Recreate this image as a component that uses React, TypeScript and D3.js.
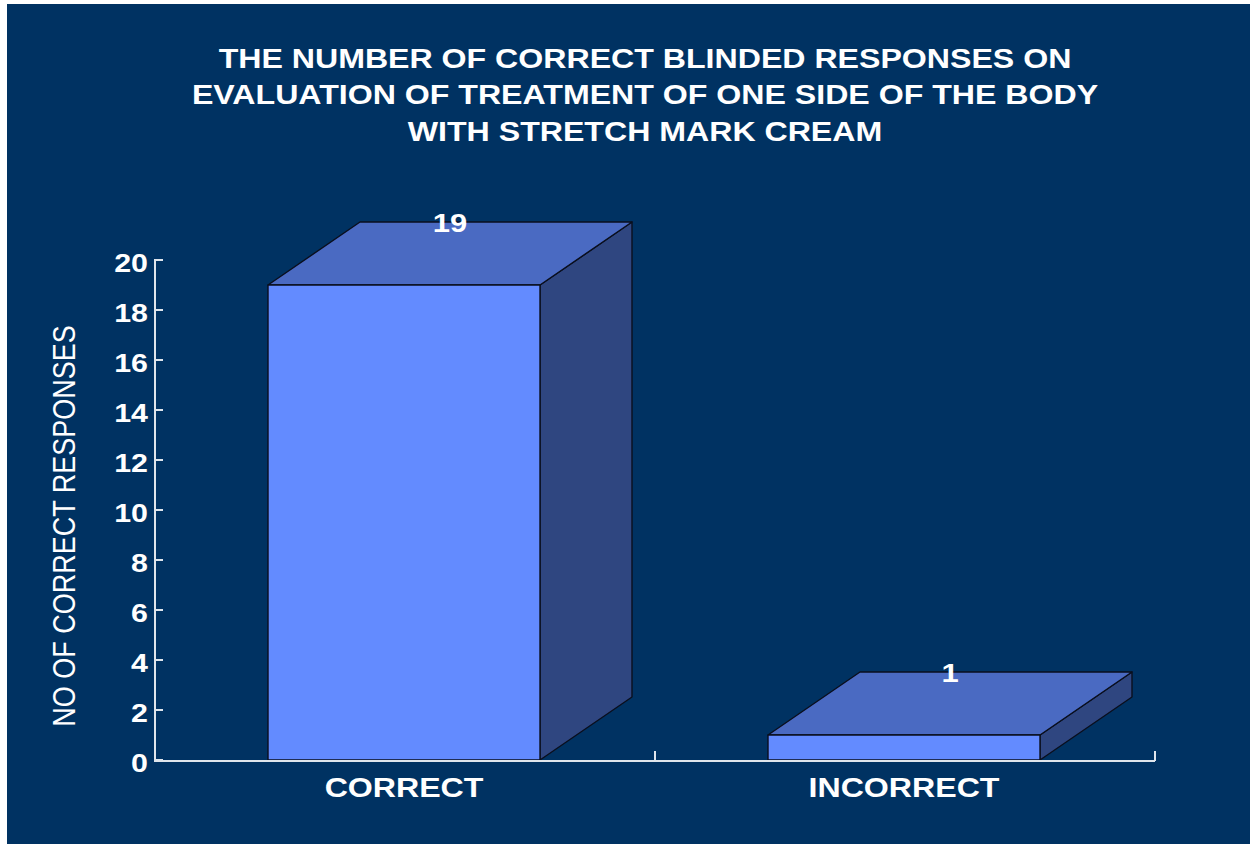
import React from "react";
import * as d3 from "d3";

const categories = ["CORRECT", "INCORRECT"];
const values = [19, 1];
const yTicks = [0, 2, 4, 6, 8, 10, 12, 14, 16, 18, 20];
const titleLines = [
  "THE NUMBER OF CORRECT BLINDED RESPONSES ON",
  "EVALUATION OF TREATMENT OF ONE SIDE OF THE BODY",
  "WITH STRETCH MARK CREAM",
];
const yAxisTitle = "NO OF CORRECT RESPONSES";

const W = 1250;
const H = 845;
const SX = 1.19;
const FONT = "'Liberation Sans', Arial, Helvetica, sans-serif";
const BG = "#003262";
const FRONT = "#638bff";
const TOP = "#4a6ac2";
const SIDE = "#2f4680";
const AXIS = "#dfe5ec";
const DX = 92;
const DY = -63;

function SText({ x, y, size, weight, anchor, children, rotate }: any) {
  return (
    <g transform={`translate(${x},${y}) scale(${SX},1)${rotate ? ` rotate(${rotate})` : ""}`}>
      <text
        x={0}
        y={0}
        fill="#ffffff"
        fontFamily={FONT}
        fontSize={size}
        fontWeight={weight}
        textAnchor={anchor}
      >
        {children}
      </text>
    </g>
  );
}

export default function App() {
  const x = d3
    .scaleBand<string>()
    .domain(categories)
    .range([155, 1155])
    .paddingInner(0.456)
    .paddingOuter(0.228);
  const y = d3.scaleLinear().domain([0, 20]).range([760, 260]);
  const bw = x.bandwidth();
  const step = x.step();
  const y0 = y(0);

  return (
    <svg
      width={W}
      height={H}
      style={{ position: "absolute", left: 0, top: 0, display: "block" }}
    >
      <rect x={0} y={0} width={W} height={H} fill="#ffffff" />
      <rect x={7} y={4} width={W - 7} height={H - 5} fill={BG} />

      {titleLines.map((t, i) => (
        <SText key={t} x={645} y={[68, 103.5, 140.5][i]} size={27} weight="bold" anchor="middle">
          {t}
        </SText>
      ))}

      {/* bars */}
      {categories.map((c, i) => {
        const x0 = x(c)! - 1;
        const x1 = x0 + bw;
        const yt = y(values[i]);
        const front = `M${x0},${y0}L${x1},${y0}L${x1},${yt}L${x0},${yt}Z`;
        const top = `M${x0},${yt}L${x0 + DX},${yt + DY}L${x1 + DX},${yt + DY}L${x1},${yt}Z`;
        const side = `M${x1},${y0}L${x1 + DX},${y0 + DY}L${x1 + DX},${yt + DY}L${x1},${yt}Z`;
        return (
          <g key={c} stroke="#0a0f1e" strokeWidth={1.4} strokeLinejoin="round">
            <path d={side} fill={SIDE} />
            <path d={top} fill={TOP} />
            <path d={front} fill={FRONT} />
          </g>
        );
      })}

      {/* axes */}
      <g stroke={AXIS} strokeWidth={2} fill="none">
        <line x1={155} x2={155} y1={y(20) - 1} y2={y0 + 1} />
        {yTicks.map((t) => (
          <line key={t} x1={155} x2={163} y1={y(t)} y2={y(t)} />
        ))}
        <line x1={154} x2={1155} y1={y0 + 1} y2={y0 + 1} />
        {categories.map((c) => (
          <line
            key={c}
            x1={x(c)! + bw + (step - bw) / 2}
            x2={x(c)! + bw + (step - bw) / 2}
            y1={y0 + 1}
            y2={y0 - 9}
          />
        ))}
      </g>

      {yTicks.map((t) => (
        <SText key={t} x={148} y={y(t) + 12} size={25.5} weight="bold" anchor="end">
          {String(t)}
        </SText>
      ))}

      {categories.map((c) => (
        <SText key={c} x={x(c)! + bw / 2 - 1} y={797} size={27} weight="bold" anchor="middle">
          {c}
        </SText>
      ))}

      {categories.map((c, i) => (
        <SText
          key={c + "v"}
          x={x(c)! + bw / 2 + DX / 2 - 1}
          y={y(values[i]) + DY + 10}
          size={26}
          weight="bold"
          anchor="middle"
        >
          {String(values[i])}
        </SText>
      ))}

      <SText x={75} y={526} size={27} weight="normal" anchor="middle" rotate={-90}>
        {yAxisTitle}
      </SText>
    </svg>
  );
}
